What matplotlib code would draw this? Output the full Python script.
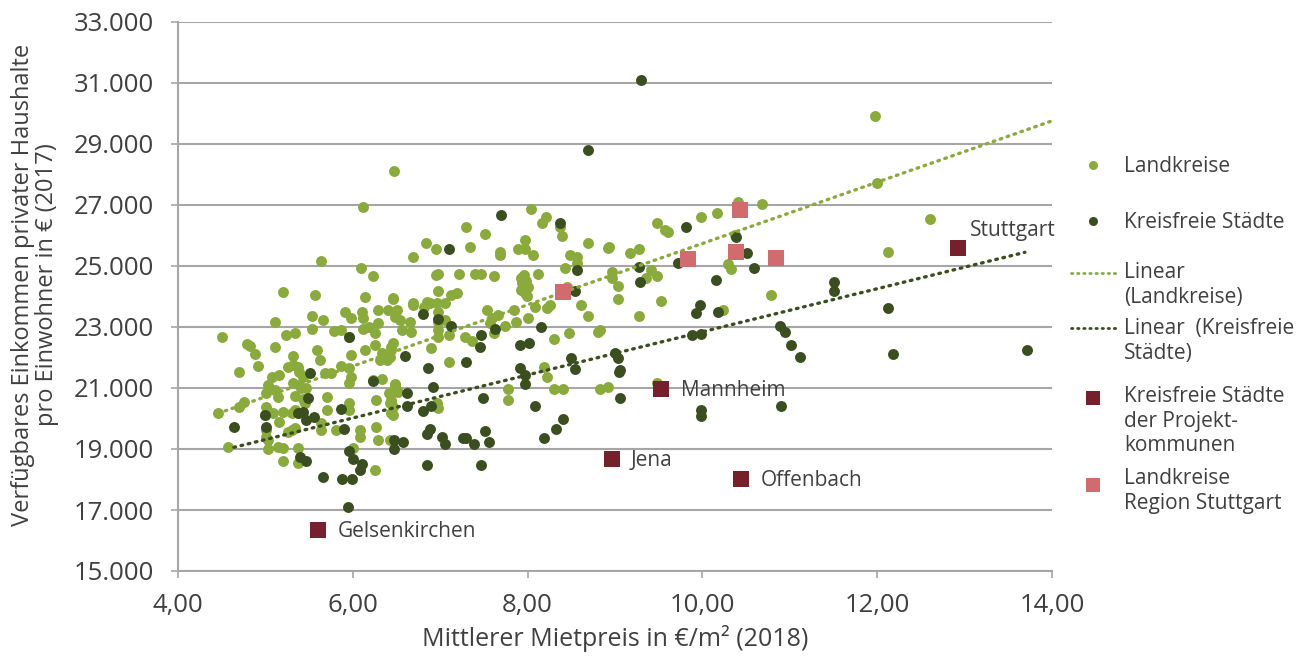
import matplotlib
matplotlib.use("Agg")
import matplotlib.pyplot as plt
import numpy as np
from matplotlib.ticker import FuncFormatter, FixedLocator

plt.rcParams['font.family'] = ['Open Sans', 'DejaVu Sans']

# ---------------- data ----------------
land_x = [5.64, 6.09, 6.23, 5.20, 5.57, 6.14, 6.46, 5.91, 5.98, 6.10, 6.12, 6.29, 6.40, 5.53, 5.66, 5.11,
          5.53, 5.79, 5.87, 5.96, 6.12, 6.19, 6.29, 6.25, 4.50, 5.24, 5.34, 4.79, 4.82, 5.11, 5.59, 4.88,
          5.32, 5.98, 6.14, 6.25, 6.33, 6.44, 5.62, 4.92, 5.26, 5.32, 5.37, 4.70, 5.87, 5.96, 5.98, 5.96,
          6.40, 5.07, 5.16, 5.39, 5.43, 5.68, 5.75, 5.32, 5.39, 5.41, 5.47, 5.03, 5.01, 6.23, 6.33, 6.48,
          5.11, 5.14, 5.34, 5.43, 5.45, 5.71, 4.76, 4.70, 4.46, 5.01, 4.99, 5.09, 5.20, 5.30, 5.34, 5.39,
          5.71, 5.96, 5.96, 6.27, 6.44, 6.44, 5.16, 5.01, 5.01, 5.03, 5.30, 5.34, 5.26, 5.64, 5.64, 5.81,
          6.08, 6.08, 6.27, 6.29, 6.42, 4.57, 5.03, 5.14, 5.20, 5.37, 5.20, 5.37, 6.00, 6.25,
          6.46, 6.50, 6.48, 6.54, 6.65, 6.67, 6.56, 6.46, 6.44, 6.43, 6.39, 6.69, 6.31, 6.48, 6.41, 6.43,
          6.46, 6.47, 6.12,
          8.04, 8.17, 8.21, 7.30, 7.51, 6.84, 6.95, 7.34, 6.69, 7.68, 7.68, 7.89, 7.97, 7.97, 8.06, 8.39,
          8.37, 8.69, 8.48, 8.56, 8.57, 8.43, 8.92, 6.95, 6.97, 7.21, 7.40, 7.47, 7.61, 7.92, 7.95, 7.98,
          7.93, 7.97, 8.00, 7.96, 7.99, 7.94, 8.12, 6.97, 7.12, 7.19, 6.69, 6.81, 6.85, 6.88, 6.96, 7.05,
          6.97, 6.97, 6.98, 6.98, 7.05, 7.10, 7.53, 7.59, 7.66, 7.84, 8.00, 7.87, 8.09, 8.22, 8.26, 8.61,
          8.69, 7.57, 7.74, 7.62, 7.28, 7.36, 6.90, 7.10, 8.30, 8.47, 8.80, 8.19, 8.22, 7.78, 7.78, 8.30,
          8.41, 8.83, 8.92, 6.48, 6.52, 6.44, 6.46, 6.96, 6.98, 8.45,
          10.41, 10.68, 9.48, 9.57, 9.61, 9.98, 10.17, 10.37, 8.93, 9.17, 9.27, 8.97, 8.96, 9.04, 9.04,
          9.41, 9.35, 9.48, 9.53, 9.27, 10.29, 10.33, 10.79, 10.23, 8.83, 9.48,
          11.97, 12.00, 12.60, 12.12]
land_y = [25170, 24930, 24670, 24160, 24050, 23990, 23920, 23500, 23290, 23500, 23290, 23560, 23560, 23360, 23230, 23180,
          22920, 22880, 22900, 22680, 22920, 23010, 23120, 22790, 22660, 22740, 22790, 22440, 22380, 22360, 22250, 22100,
          22050, 22080, 22250, 22410, 22140, 22360, 21920, 21720, 21700, 21750, 21700, 21540, 21720, 21650, 21370, 21150,
          21970, 21370, 21430, 21540, 21370, 21480, 21480, 21150, 21100, 20990, 20990, 21100, 20830, 21260, 21280, 21100,
          20930, 20720, 20740, 20630, 20500, 20700, 20550, 20390, 20170, 20390, 20120, 20170, 20220, 20170, 20280, 20170,
          20280, 20500, 20280, 20610, 20500, 20170, 19900, 19620, 19400, 19300, 19620, 19680, 19570, 19840, 19620, 19620,
          19620, 19400, 19730, 19300, 19300, 19050, 18990, 19080, 19020, 19020, 18620, 18550, 19020, 18310,
          23940, 23560, 23340, 23230, 23180, 22850, 22900, 22470, 22250, 22030, 21920, 23780, 21920, 21040, 20830, 20500,
          20390, 28100, 26920,
          26860, 26420, 26620, 26290, 26050, 25740, 25550, 25610, 25290, 25470, 25360, 25550, 25850, 25550, 25360, 25980,
          26290, 25740, 25360, 25310, 25090, 24920, 25580, 24710, 24740, 24740, 24740, 24740, 24670, 24600, 24400, 24500,
          24200, 24100, 24300, 24700, 24000, 24450, 24740, 24190, 24050, 24100, 23720, 23670, 23830, 23780, 23780, 23800,
          23500, 23180, 22900, 22680, 23230, 22740, 23560, 23290, 23400, 23560, 23290, 23180, 23670, 23610, 23720, 23720,
          23360, 23120, 23040, 22790, 22680, 22550, 22300, 21840, 22600, 22790, 22850, 21700, 21350, 20970, 20610, 20970,
          20970, 20970, 21040, 21120, 20880, 20610, 20120, 20500, 20330, 24300,
          27110, 27030, 26420, 26180, 26110, 26620, 26730, 26020, 25610, 25420, 25550, 24800, 24600, 24360, 23920,
          24870, 24600, 24670, 23860, 23360, 25070, 24900, 24050, 23560, 22900, 21170,
          29930, 27730, 26550, 25470]

kf_x = [5.96, 5.51, 6.23, 5.49, 5.00, 5.86, 5.37, 5.43, 5.47, 5.56, 4.64, 5.01, 5.90, 6.47, 6.47, 5.40,
        5.47, 5.96, 6.00, 6.10, 6.08, 5.66, 5.88, 5.99, 5.95, 8.69, 7.69, 8.37, 7.10, 8.56, 8.54, 6.80,
        6.97, 7.12, 7.63, 8.15, 7.47, 7.45, 7.91, 8.02, 6.60, 6.86, 7.30, 7.91, 7.97, 7.97, 8.50, 8.54,
        6.92, 6.62, 6.62, 6.80, 6.90, 7.49, 8.09, 8.41, 8.32, 8.19, 6.58, 6.85, 6.88, 7.02, 7.06, 7.26,
        7.30, 7.39, 7.51, 7.56, 6.85, 7.47, 9.30, 9.81, 10.39, 10.51, 10.59, 10.16, 9.27, 9.29, 9.72, 9.97,
        9.93, 10.18, 9.88, 9.98, 10.89, 10.94, 11.01, 11.12, 9.00, 9.03, 9.06, 9.05, 9.06, 9.98, 9.98, 10.90,
        11.51, 11.51, 12.12, 12.18, 13.71]
kf_y = [22660, 21480, 21230, 20680, 20120, 20300, 20190, 20220, 19950, 20060, 19730, 19730, 19670, 19300, 18990, 18730,
        18620, 18940, 18680, 18510, 18310, 18090, 18010, 18010, 17110, 28800, 26670, 26420, 25550, 24870, 24190, 23430,
        23260, 23040, 22920, 22990, 22740, 22360, 22410, 22490, 22050, 21670, 21840, 21670, 21430, 21120, 21970, 21610,
        21040, 20850, 20410, 20250, 20420, 20660, 20410, 19970, 19660, 19350, 19220, 19480, 19650, 19400, 19160, 19350,
        19350, 19160, 19600, 19220, 18480, 18480, 31100, 26290, 25940, 25420, 24920, 24540, 24980, 24490, 25110, 23720,
        23470, 23500, 22740, 22770, 23040, 22850, 22410, 22000, 22160, 21970, 21590, 21510, 20660, 20280, 20090, 20410,
        24490, 24180, 23610, 22100, 22250]

proj_names = ["Stuttgart", "Mannheim", "Jena", "Offenbach", "Gelsenkirchen"]
proj_x = [12.93, 9.53, 8.96, 10.44, 5.60]
proj_y = [25590, 20960, 18660, 18020, 16340]

region_x = [8.40, 9.84, 10.38, 10.43, 10.84]
region_y = [24140, 25220, 25470, 26840, 25270]

# linear trend lines (slope, intercept, x-start, x-end)
trend_land = [1005.0, 15688.0, 4.46, 14.0]
trend_kf = [706.5, 15777.0, 4.64, 13.69]

y_ticks = [15000, 17000, 19000, 21000, 23000, 25000, 27000, 29000, 31000, 33000]
x_ticks = [4, 6, 8, 10, 12, 14]

# ---------------- style ----------------
C_LAND = '#8aab3c'
C_KF = '#3b4e1f'
C_PROJ = '#75202b'
C_REG = '#d26b6e'
C_GRID = '#a6a6a6'
C_TEXT = '#404040'

W, H = 1303, 659
fig = plt.figure(figsize=(W / 100, H / 100), dpi=100)
L, R, T, B = 178, 1052, 22, 571
ax = fig.add_axes([L / W, 1 - B / H, (R - L) / W, (B - T) / H])

ax.set_xlim(4, 14)
ax.set_ylim(15000, 33000)
ax.xaxis.set_major_locator(FixedLocator(x_ticks))
ax.yaxis.set_major_locator(FixedLocator(y_ticks))
ax.xaxis.set_major_formatter(FuncFormatter(lambda v, p: f"{v:.2f}".replace('.', ',')))
ax.yaxis.set_major_formatter(FuncFormatter(lambda v, p: f"{int(round(v)):,}".replace(',', '.')))

ax.grid(axis='y', color=C_GRID, linewidth=1.5)
ax.set_axisbelow(True)
for s in ['top', 'right']:
    ax.spines[s].set_visible(False)
for s in ['left', 'bottom']:
    ax.spines[s].set_color(C_GRID)
    ax.spines[s].set_linewidth(1.5)
ax.tick_params(axis='both', colors=C_GRID, length=5, width=1.2, labelsize=18.5, labelcolor=C_TEXT)
ax.tick_params(axis='y', pad=12)
ax.tick_params(axis='x', pad=11)

ax.scatter(land_x, land_y, s=62, color=C_LAND, linewidths=0, zorder=3)
ax.scatter(kf_x, kf_y, s=62, color=C_KF, linewidths=0, zorder=4)

for tr, col in [(trend_land, C_LAND), (trend_kf, C_KF)]:
    xs = np.array([tr[2], tr[3]])
    ax.plot(xs, tr[0] * xs + tr[1], color=col, linewidth=2.4,
            linestyle=(0, (0.5, 1.7)), dash_capstyle='round', zorder=5)

ax.scatter(region_x, region_y, s=125, marker='s', color=C_REG, linewidths=0, zorder=6)
ax.scatter(proj_x, proj_y, s=125, marker='s', color=C_PROJ, linewidths=0, zorder=6)

for name, x, y in zip(proj_names, proj_x, proj_y):
    if name == "Stuttgart":
        ax.annotate(name, (x, y), xytext=(8, 5), textcoords='offset points',
                    fontsize=15, color=C_TEXT, va='bottom', ha='left')
    else:
        ax.annotate(name, (x, y), xytext=(14, -1), textcoords='offset points',
                    fontsize=15, color=C_TEXT, va='center', ha='left')

# axis labels
fig.text(615 / W, 1 - 638 / H, "Mittlerer Mietpreis in €/m² (2018)", ha='center', va='center',
         fontsize=18, color=C_TEXT)
fig.text(35 / W, 1 - 285 / H, "Verfügbares Einkommen privater Haushalte\npro Einwohner in € (2017)",
         ha='center', va='center', rotation=90, fontsize=17, color=C_TEXT, linespacing=1.05,
         multialignment='center')

# ---------------- legend (drawn in an overlay in pixel units) ----------------
lg = fig.add_axes([0, 0, 1, 1])
lg.set_xlim(0, W)
lg.set_ylim(H, 0)
lg.axis('off')
lx, tx = 1093, 1124
FS = 15
lg.plot([lx], [165], 'o', color=C_LAND, markersize=6.5, markeredgewidth=0)
lg.text(tx, 167, "Landkreise", fontsize=FS, color=C_TEXT, va='center')
lg.plot([lx], [221], 'o', color=C_KF, markersize=6.5, markeredgewidth=0)
lg.text(tx, 222, "Kreisfreie Städte", fontsize=FS, color=C_TEXT, va='center')
lg.plot([1071, 1118], [273, 273], color=C_LAND, linewidth=2, linestyle=(0, (0.5, 1.7)), dash_capstyle='round')
lg.text(tx, 285, "Linear\n(Landkreise)", fontsize=FS, color=C_TEXT, va='center', linespacing=1.2)
lg.plot([1071, 1118], [328, 328], color=C_KF, linewidth=2, linestyle=(0, (0.5, 1.7)), dash_capstyle='round')
lg.text(tx, 341, "Linear  (Kreisfreie\nStädte)", fontsize=FS, color=C_TEXT, va='center', linespacing=1.2)
lg.plot([lx], [398], 's', color=C_PROJ, markersize=9.5, markeredgewidth=0)
lg.text(tx, 421, "Kreisfreie Städte\nder Projekt-\nkommunen", fontsize=FS, color=C_TEXT, va='center',
        linespacing=1.2)
lg.plot([lx], [485], 's', color=C_REG, markersize=9.5, markeredgewidth=0)
lg.text(tx, 491, "Landkreise\nRegion Stuttgart", fontsize=FS, color=C_TEXT, va='center', linespacing=1.2)

fig.savefig("out.png", dpi=100)
